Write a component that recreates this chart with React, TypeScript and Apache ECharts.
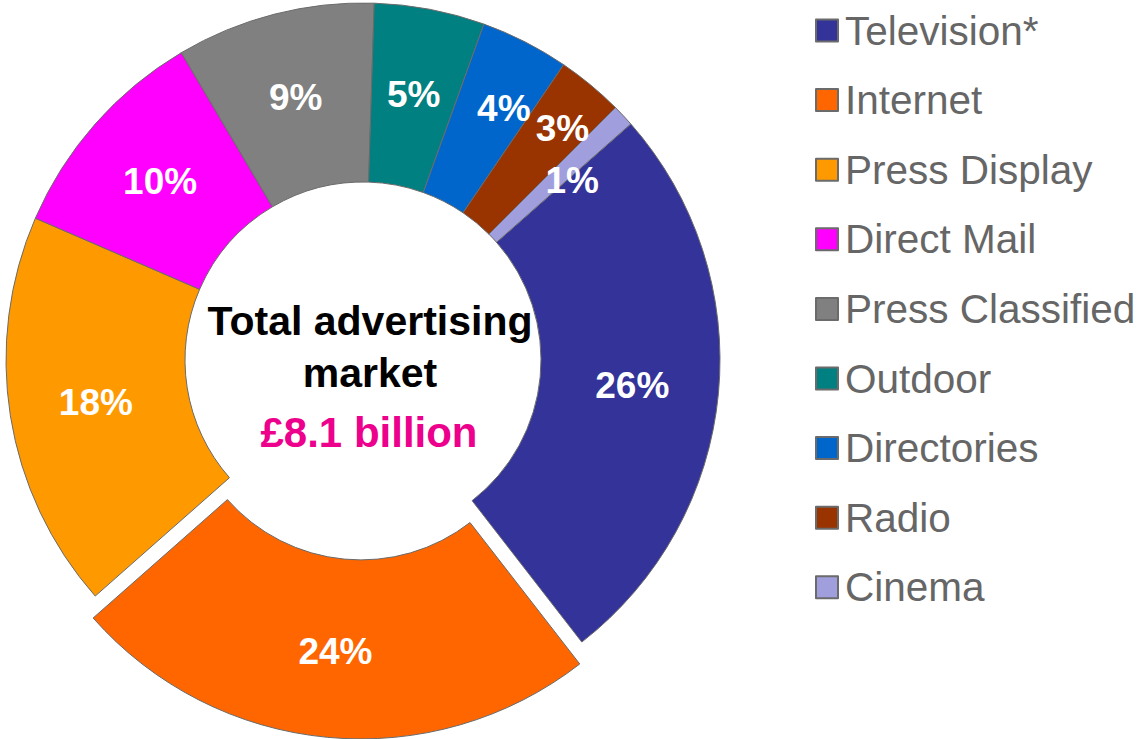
import React, { useEffect, useRef } from "react";
import * as echarts from "echarts";

const categories = [
  "Television*",
  "Internet",
  "Press Display",
  "Direct Mail",
  "Press Classified",
  "Outdoor",
  "Directories",
  "Radio",
  "Cinema",
];
const shares = [26, 24, 18, 10, 9, 5, 4, 3, 1];
const colors = [
  "#333399",
  "#FF6600",
  "#FF9900",
  "#FF00FF",
  "#808080",
  "#008080",
  "#0066CC",
  "#993300",
  "#A09EDC",
];
const explodedCategory = "Internet";
const centerLines = ["Total advertising", "market"];
const centerTotal = "£8.1 billion";

// small manual nudges of crowded labels (as in the original)
const labelNudges: Record<string, [number, number]> = {
  Directories: [18, -10],
  Radio: [27, -23],
  Cinema: [12, 6],
};

export default function App() {
  const ref = useRef<HTMLDivElement>(null);

  useEffect(() => {
    if (!ref.current) return;
    const chart = echarts.init(ref.current, undefined, { renderer: "svg" });
    const font = "Liberation Sans, Arial, sans-serif";
    chart.setOption({
      animation: false,
      legend: {
        orient: "vertical",
        left: 815,
        top: 10,
        padding: 0,
        icon: "rect",
        itemWidth: 22,
        itemHeight: 22,
        itemGap: 28.6,
        selectedMode: false,
        data: categories,
        textStyle: {
          fontFamily: font,
          fontSize: 40.5,
          color: "#666666",
          lineHeight: 41,
          padding: [0, 0, 0, 2],
        },
      },
      graphic: [
        {
          type: "text",
          x: 370,
          y: 321,
          style: {
            text: centerLines[0],
            font: `bold 41px ${font}`,
            fill: "#000000",
            textAlign: "center",
            textVerticalAlign: "middle",
          },
        },
        {
          type: "text",
          x: 370,
          y: 373,
          style: {
            text: centerLines[1],
            font: `bold 41px ${font}`,
            fill: "#000000",
            textAlign: "center",
            textVerticalAlign: "middle",
          },
        },
        {
          type: "text",
          x: 369,
          y: 432.5,
          style: {
            text: centerTotal,
            font: `bold 42px ${font}`,
            fill: "#EC008C",
            textAlign: "center",
            textVerticalAlign: "middle",
          },
        },
      ],
      series: [
        {
          type: "pie",
          center: [363, 360],
          radius: [178, 357],
          startAngle: 41.4,
          clockwise: true,
          selectedMode: "single",
          selectedOffset: 22,
          avoidLabelOverlap: false,
          minShowLabelAngle: 0,
          labelLayout: (params: any) => {
            const n = labelNudges[categories[params.dataIndex]];
            return n ? { dx: n[0], dy: n[1], hideOverlap: false } : { hideOverlap: false };
          },
          itemStyle: { borderColor: "#6b6b6b", borderWidth: 1 },
          label: {
            show: true,
            position: "inside",
            formatter: "{c}%",
            color: "#ffffff",
            fontFamily: font,
            fontWeight: "bold",
            fontSize: 37,
            overflow: "none",
          },
          labelLine: { show: false },
          emphasis: { disabled: true },
          data: categories.map((name, i) => ({
            name,
            value: shares[i],
            selected: name === explodedCategory,
            itemStyle: { color: colors[i] },
          })),
        },
      ],
    });
    return () => chart.dispose();
  }, []);

  return (
    <div
      ref={ref}
      style={{ position: "absolute", left: 0, top: 0, width: 1137, height: 739 }}
    />
  );
}
